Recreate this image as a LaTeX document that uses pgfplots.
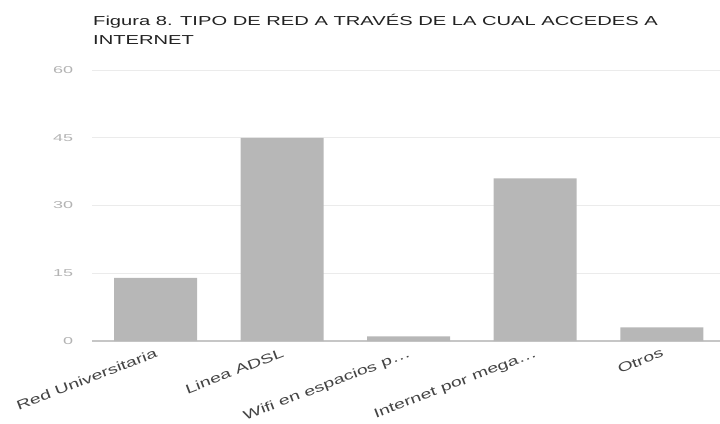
\documentclass[border=0pt]{standalone}
\usepackage{fontspec}
\setmainfont{Liberation Sans}
\newfontfamily\widesans[FakeStretch=1.55]{Liberation Sans}
\newfontfamily\labfont[FakeStretch=1.5]{Liberation Sans}
\newfontfamily\tickfont[FakeStretch=1.8]{Liberation Sans}
\usepackage{pgfplots}
\pgfplotsset{compat=1.18}

\definecolor{barfill}{HTML}{B7B7B7}
\definecolor{gridc}{HTML}{EBEBEB}
\definecolor{basec}{HTML}{C6C6C6}
\definecolor{ticklab}{HTML}{B3B3B3}
\definecolor{catlab}{HTML}{444444}
\definecolor{titlec}{HTML}{222222}

\begin{document}
\begin{tikzpicture}[x=1pt,y=1pt]
\begin{axis}[
  at={(0,0)}, anchor=south west,
  scale only axis,
  width=627.75pt, height=271pt,
  xmin=-0.5, xmax=4.46,
  ymin=0, ymax=60,
  ybar, bar width=0.656,
  axis lines*=left,
  x axis line style={draw=basec, line width=1.2pt, -},
  y axis line style={draw=none},
  major tick length=0pt,
  ymajorgrids,
  grid style={draw=gridc, line width=1pt},
  ytick={0,15,30,45,60},
  xtick={0,1,2,3,4},
  xticklabels={{Red Universitaria}, {Linea ADSL}, {Wifi en espacios p\ldots}, {Internet por mega\ldots}, {Otros}},
  /pgf/number format/assume math mode=true,
  yticklabel style={font=\tickfont\fontsize{10}{12}\selectfont, text=ticklab,
    anchor=east, inner sep=0pt, xshift=-19pt},
  xticklabel style={font=\labfont\fontsize{13}{15}\selectfont, text=catlab,
    rotate=21, anchor=north east, inner sep=0pt, xshift=-3pt, yshift=-6pt},
  clip=false,
]
\addplot[fill=barfill, draw=none] coordinates {(0,14) (1,45) (2,1) (3,36) (4,3)};
\end{axis}
\node[anchor=base west, inner sep=0pt, text=titlec, font=\widesans\fontsize{13}{15}\selectfont]
  at (0.75,315) {Figura 8. TIPO DE RED A TRAVÉS DE LA CUAL ACCEDES A};
\node[anchor=base west, inner sep=0pt, text=titlec, font=\widesans\fontsize{13}{15}\selectfont]
  at (0.75,296.5) {INTERNET};
\pgfresetboundingbox
\path[use as bounding box] (-92.25,-82) rectangle (627.75,341);
\end{tikzpicture}
\end{document}
